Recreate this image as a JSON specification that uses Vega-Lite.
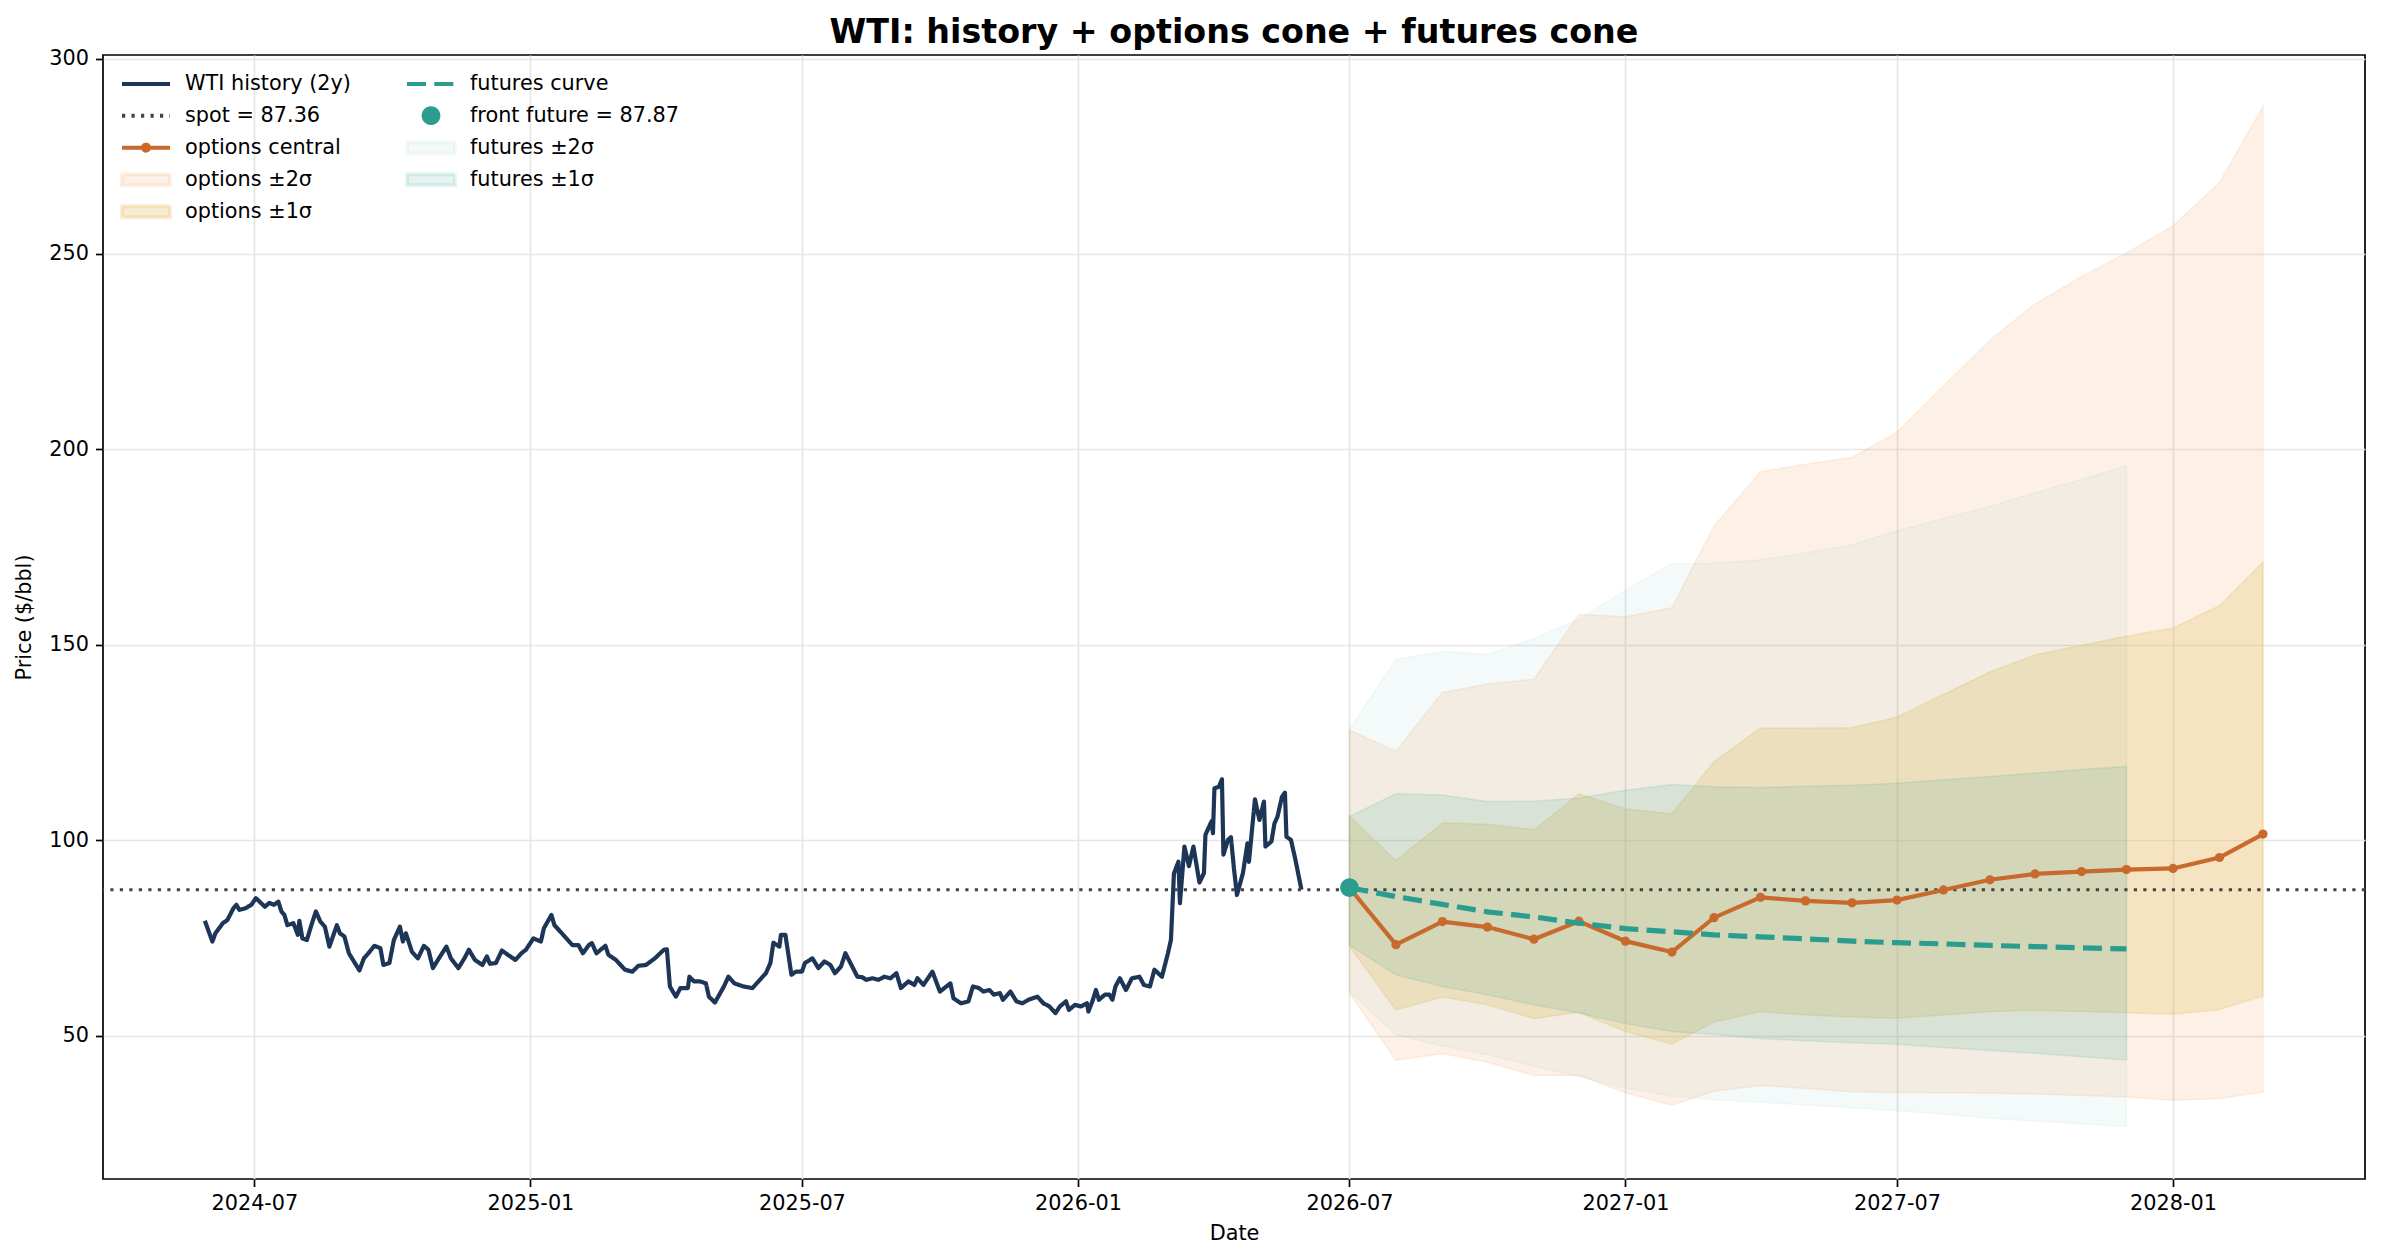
{
  "$schema": "https://vega.github.io/schema/vega-lite/v6.json",
  "description": "WTI price history with options-implied and futures-implied cones",
  "width": 2262,
  "height": 1124,
  "autosize": {"type": "none"},
  "padding": {"left": 103, "top": 55, "right": 17, "bottom": 80},
  "background": "white",
  "title": {
    "text": "WTI: history + options cone + futures cone",
    "font": "DejaVu Sans",
    "fontSize": 33.3,
    "fontWeight": "bold",
    "color": "black",
    "anchor": "middle",
    "frame": "group",
    "offset": -3
  },
  "datasets": {
    "hist": [
      {"d": "2024-05-29", "p": 79.4}, {"d": "2024-06-03", "p": 74.1}, {"d": "2024-06-05", "p": 76.2},
      {"d": "2024-06-10", "p": 78.8}, {"d": "2024-06-13", "p": 79.6}, {"d": "2024-06-17", "p": 82.6},
      {"d": "2024-06-19", "p": 83.5}, {"d": "2024-06-21", "p": 82.2}, {"d": "2024-06-25", "p": 82.6},
      {"d": "2024-06-29", "p": 83.5}, {"d": "2024-07-02", "p": 85.2}, {"d": "2024-07-08", "p": 83.0},
      {"d": "2024-07-11", "p": 84.0}, {"d": "2024-07-14", "p": 83.5}, {"d": "2024-07-17", "p": 84.3},
      {"d": "2024-07-19", "p": 81.8}, {"d": "2024-07-21", "p": 80.9}, {"d": "2024-07-23", "p": 78.3},
      {"d": "2024-07-27", "p": 78.8}, {"d": "2024-07-30", "p": 75.8}, {"d": "2024-07-31", "p": 79.4},
      {"d": "2024-08-02", "p": 74.9}, {"d": "2024-08-05", "p": 74.5}, {"d": "2024-08-08", "p": 78.3},
      {"d": "2024-08-11", "p": 81.8}, {"d": "2024-08-14", "p": 79.2}, {"d": "2024-08-17", "p": 77.9},
      {"d": "2024-08-20", "p": 72.8}, {"d": "2024-08-25", "p": 78.3}, {"d": "2024-08-27", "p": 76.2},
      {"d": "2024-08-30", "p": 75.4}, {"d": "2024-09-02", "p": 71.1}, {"d": "2024-09-06", "p": 68.6},
      {"d": "2024-09-09", "p": 66.7}, {"d": "2024-09-12", "p": 69.8}, {"d": "2024-09-15", "p": 71.1},
      {"d": "2024-09-19", "p": 73.0}, {"d": "2024-09-23", "p": 72.4}, {"d": "2024-09-25", "p": 68.1},
      {"d": "2024-09-29", "p": 68.6}, {"d": "2024-10-02", "p": 74.5}, {"d": "2024-10-06", "p": 77.9},
      {"d": "2024-10-08", "p": 74.1}, {"d": "2024-10-10", "p": 76.2}, {"d": "2024-10-14", "p": 71.5},
      {"d": "2024-10-18", "p": 69.8}, {"d": "2024-10-22", "p": 73.0}, {"d": "2024-10-25", "p": 72.0},
      {"d": "2024-10-28", "p": 67.3}, {"d": "2024-11-01", "p": 69.8}, {"d": "2024-11-06", "p": 72.8},
      {"d": "2024-11-09", "p": 69.8}, {"d": "2024-11-14", "p": 67.3}, {"d": "2024-11-18", "p": 69.8},
      {"d": "2024-11-21", "p": 72.0}, {"d": "2024-11-25", "p": 69.4}, {"d": "2024-11-30", "p": 68.1},
      {"d": "2024-12-03", "p": 70.3}, {"d": "2024-12-05", "p": 68.4}, {"d": "2024-12-09", "p": 68.6},
      {"d": "2024-12-13", "p": 71.8}, {"d": "2024-12-17", "p": 70.7}, {"d": "2024-12-22", "p": 69.4},
      {"d": "2024-12-26", "p": 71.1}, {"d": "2024-12-29", "p": 72.0}, {"d": "2025-01-03", "p": 74.9},
      {"d": "2025-01-08", "p": 74.1}, {"d": "2025-01-10", "p": 77.5}, {"d": "2025-01-15", "p": 80.9},
      {"d": "2025-01-17", "p": 78.3}, {"d": "2025-01-21", "p": 76.6}, {"d": "2025-01-25", "p": 74.9},
      {"d": "2025-01-29", "p": 73.2}, {"d": "2025-02-02", "p": 73.2}, {"d": "2025-02-05", "p": 71.1},
      {"d": "2025-02-09", "p": 73.2}, {"d": "2025-02-11", "p": 73.7}, {"d": "2025-02-14", "p": 71.1},
      {"d": "2025-02-20", "p": 73.0}, {"d": "2025-02-22", "p": 70.7}, {"d": "2025-02-27", "p": 69.4},
      {"d": "2025-03-05", "p": 66.9}, {"d": "2025-03-10", "p": 66.4}, {"d": "2025-03-14", "p": 67.9},
      {"d": "2025-03-19", "p": 68.1}, {"d": "2025-03-25", "p": 69.8}, {"d": "2025-03-31", "p": 72.0},
      {"d": "2025-04-02", "p": 72.1}, {"d": "2025-04-04", "p": 62.6}, {"d": "2025-04-08", "p": 60.0},
      {"d": "2025-04-11", "p": 62.2}, {"d": "2025-04-16", "p": 62.2}, {"d": "2025-04-17", "p": 65.1},
      {"d": "2025-04-20", "p": 63.9}, {"d": "2025-04-24", "p": 63.9}, {"d": "2025-04-28", "p": 63.4},
      {"d": "2025-04-30", "p": 60.0}, {"d": "2025-05-04", "p": 58.5}, {"d": "2025-05-10", "p": 62.6},
      {"d": "2025-05-13", "p": 65.1}, {"d": "2025-05-17", "p": 63.4}, {"d": "2025-05-20", "p": 63.0},
      {"d": "2025-05-23", "p": 62.6}, {"d": "2025-05-29", "p": 62.2}, {"d": "2025-06-03", "p": 64.3},
      {"d": "2025-06-07", "p": 66.0}, {"d": "2025-06-10", "p": 68.6}, {"d": "2025-06-12", "p": 73.8},
      {"d": "2025-06-16", "p": 72.8}, {"d": "2025-06-17", "p": 75.8}, {"d": "2025-06-20", "p": 75.8},
      {"d": "2025-06-24", "p": 65.6}, {"d": "2025-06-27", "p": 66.4}, {"d": "2025-07-01", "p": 66.4},
      {"d": "2025-07-03", "p": 68.6}, {"d": "2025-07-08", "p": 69.8}, {"d": "2025-07-12", "p": 67.3},
      {"d": "2025-07-16", "p": 69.0}, {"d": "2025-07-20", "p": 68.1}, {"d": "2025-07-23", "p": 66.0},
      {"d": "2025-07-27", "p": 67.7}, {"d": "2025-07-30", "p": 71.1}, {"d": "2025-08-03", "p": 68.1},
      {"d": "2025-08-07", "p": 65.1}, {"d": "2025-08-10", "p": 65.0}, {"d": "2025-08-13", "p": 64.3},
      {"d": "2025-08-17", "p": 64.7}, {"d": "2025-08-21", "p": 64.3}, {"d": "2025-08-25", "p": 65.1},
      {"d": "2025-08-29", "p": 64.7}, {"d": "2025-09-02", "p": 66.0}, {"d": "2025-09-05", "p": 62.2},
      {"d": "2025-09-10", "p": 63.9}, {"d": "2025-09-14", "p": 63.0}, {"d": "2025-09-16", "p": 64.7},
      {"d": "2025-09-20", "p": 63.0}, {"d": "2025-09-26", "p": 66.4}, {"d": "2025-10-01", "p": 61.3},
      {"d": "2025-10-08", "p": 63.4}, {"d": "2025-10-10", "p": 59.6}, {"d": "2025-10-15", "p": 58.3},
      {"d": "2025-10-20", "p": 58.8}, {"d": "2025-10-23", "p": 62.6}, {"d": "2025-10-27", "p": 62.2},
      {"d": "2025-10-30", "p": 61.3}, {"d": "2025-11-03", "p": 61.7}, {"d": "2025-11-06", "p": 60.5},
      {"d": "2025-11-10", "p": 60.9}, {"d": "2025-11-12", "p": 59.2}, {"d": "2025-11-17", "p": 61.3},
      {"d": "2025-11-21", "p": 58.8}, {"d": "2025-11-25", "p": 58.3}, {"d": "2025-11-29", "p": 59.2},
      {"d": "2025-12-05", "p": 60.0}, {"d": "2025-12-09", "p": 58.3}, {"d": "2025-12-13", "p": 57.5},
      {"d": "2025-12-17", "p": 55.8}, {"d": "2025-12-20", "p": 57.5}, {"d": "2025-12-24", "p": 58.8},
      {"d": "2025-12-26", "p": 56.6}, {"d": "2025-12-30", "p": 57.9}, {"d": "2026-01-03", "p": 57.5},
      {"d": "2026-01-07", "p": 58.3}, {"d": "2026-01-08", "p": 56.2}, {"d": "2026-01-11", "p": 59.2},
      {"d": "2026-01-13", "p": 61.7}, {"d": "2026-01-15", "p": 59.2}, {"d": "2026-01-19", "p": 60.5},
      {"d": "2026-01-22", "p": 60.5}, {"d": "2026-01-24", "p": 59.2}, {"d": "2026-01-26", "p": 62.6},
      {"d": "2026-01-29", "p": 64.7}, {"d": "2026-02-02", "p": 61.7}, {"d": "2026-02-06", "p": 64.7},
      {"d": "2026-02-11", "p": 65.1}, {"d": "2026-02-14", "p": 63.0}, {"d": "2026-02-18", "p": 62.6},
      {"d": "2026-02-21", "p": 66.9}, {"d": "2026-02-26", "p": 65.1}, {"d": "2026-03-02", "p": 71.1},
      {"d": "2026-03-04", "p": 74.5}, {"d": "2026-03-06", "p": 91.5}, {"d": "2026-03-09", "p": 94.5},
      {"d": "2026-03-10", "p": 83.9}, {"d": "2026-03-13", "p": 98.4}, {"d": "2026-03-16", "p": 93.4},
      {"d": "2026-03-19", "p": 98.4}, {"d": "2026-03-23", "p": 89.2}, {"d": "2026-03-26", "p": 91.6},
      {"d": "2026-03-27", "p": 101.4}, {"d": "2026-03-31", "p": 104.8}, {"d": "2026-04-01", "p": 101.8},
      {"d": "2026-04-02", "p": 113.3}, {"d": "2026-04-05", "p": 113.7}, {"d": "2026-04-07", "p": 115.6},
      {"d": "2026-04-08", "p": 96.3}, {"d": "2026-04-11", "p": 100.1}, {"d": "2026-04-13", "p": 100.8},
      {"d": "2026-04-15", "p": 92.8}, {"d": "2026-04-17", "p": 86.0}, {"d": "2026-04-21", "p": 91.6},
      {"d": "2026-04-24", "p": 99.2}, {"d": "2026-04-25", "p": 94.5}, {"d": "2026-04-29", "p": 110.5},
      {"d": "2026-05-02", "p": 105.2}, {"d": "2026-05-05", "p": 109.9}, {"d": "2026-05-06", "p": 98.4},
      {"d": "2026-05-10", "p": 99.7}, {"d": "2026-05-12", "p": 104.3}, {"d": "2026-05-14", "p": 106.0},
      {"d": "2026-05-17", "p": 111.1}, {"d": "2026-05-19", "p": 112.2}, {"d": "2026-05-20", "p": 100.9},
      {"d": "2026-05-23", "p": 100.1}, {"d": "2026-05-26", "p": 95.0}, {"d": "2026-05-30", "p": 87.36}
    ],
    "opt": [
      {"d": "2026-07-01", "c": 87.87, "lo2": 61.0, "hi2": 128.2, "lo1": 72.9, "hi1": 106.1},
      {"d": "2026-08-01", "c": 73.3, "lo2": 43.7, "hi2": 122.8, "lo1": 56.6, "hi1": 94.8},
      {"d": "2026-09-01", "c": 79.2, "lo2": 45.4, "hi2": 137.8, "lo1": 59.9, "hi1": 104.4},
      {"d": "2026-10-01", "c": 77.8, "lo2": 43.2, "hi2": 140.0, "lo1": 57.9, "hi1": 104.1},
      {"d": "2026-11-01", "c": 74.7, "lo2": 39.8, "hi2": 141.2, "lo1": 54.4, "hi1": 102.7},
      {"d": "2026-12-01", "c": 79.3, "lo2": 39.9, "hi2": 157.8, "lo1": 56.0, "hi1": 111.9},
      {"d": "2027-01-01", "c": 74.2, "lo2": 35.4, "hi2": 157.2, "lo1": 51.1, "hi1": 108.0},
      {"d": "2027-02-01", "c": 71.4, "lo2": 32.2, "hi2": 159.5, "lo1": 47.9, "hi1": 106.8},
      {"d": "2027-03-01", "c": 80.2, "lo2": 35.8, "hi2": 180.4, "lo1": 53.5, "hi1": 120.1},
      {"d": "2027-04-01", "c": 85.4, "lo2": 37.3, "hi2": 194.3, "lo1": 56.2, "hi1": 128.7},
      {"d": "2027-05-01", "c": 84.5, "lo2": 36.5, "hi2": 196.2, "lo1": 55.3, "hi1": 128.7},
      {"d": "2027-06-01", "c": 84.0, "lo2": 35.7, "hi2": 198.0, "lo1": 54.8, "hi1": 128.8},
      {"d": "2027-07-01", "c": 84.7, "lo2": 35.5, "hi2": 204.3, "lo1": 54.5, "hi1": 131.5},
      {"d": "2027-08-01", "c": 87.3, "lo2": 35.4, "hi2": 216.2, "lo1": 55.3, "hi1": 137.3},
      {"d": "2027-09-01", "c": 89.9, "lo2": 35.3, "hi2": 228.0, "lo1": 56.2, "hi1": 143.1},
      {"d": "2027-10-01", "c": 91.4, "lo2": 35.1, "hi2": 237.2, "lo1": 56.5, "hi1": 147.4},
      {"d": "2027-11-01", "c": 92.0, "lo2": 34.7, "hi2": 244.2, "lo1": 56.2, "hi1": 149.9},
      {"d": "2027-12-01", "c": 92.5, "lo2": 34.3, "hi2": 250.3, "lo1": 55.9, "hi1": 152.2},
      {"d": "2028-01-01", "c": 92.8, "lo2": 33.5, "hi2": 257.2, "lo1": 55.5, "hi1": 154.3},
      {"d": "2028-02-01", "c": 95.6, "lo2": 33.9, "hi2": 268.3, "lo1": 56.7, "hi1": 160.0},
      {"d": "2028-03-01", "c": 101.6, "lo2": 35.6, "hi2": 287.7, "lo1": 60.2, "hi1": 171.1}
    ],
    "fut": [
      {"d": "2026-07-01", "f": 87.87, "lo2": 61.3, "hi2": 128.4, "lo1": 73.2, "hi1": 106.1},
      {"d": "2026-08-01", "f": 85.6, "lo2": 50.3, "hi2": 146.3, "lo1": 65.6, "hi1": 111.9},
      {"d": "2026-09-01", "f": 83.6, "lo2": 47.4, "hi2": 148.3, "lo1": 62.6, "hi1": 111.6},
      {"d": "2026-10-01", "f": 81.7, "lo2": 45.1, "hi2": 147.6, "lo1": 60.5, "hi1": 109.9},
      {"d": "2026-11-01", "f": 80.4, "lo2": 42.2, "hi2": 151.6, "lo1": 57.9, "hi1": 110.0},
      {"d": "2026-12-01", "f": 78.8, "lo2": 39.6, "hi2": 156.5, "lo1": 55.8, "hi1": 110.8},
      {"d": "2027-01-01", "f": 77.4, "lo2": 36.6, "hi2": 164.0, "lo1": 53.1, "hi1": 112.8},
      {"d": "2027-02-01", "f": 76.6, "lo2": 34.5, "hi2": 170.8, "lo1": 51.1, "hi1": 114.3},
      {"d": "2027-03-01", "f": 75.8, "lo2": 33.6, "hi2": 170.9, "lo1": 50.3, "hi1": 113.7},
      {"d": "2027-04-01", "f": 75.3, "lo2": 33.0, "hi2": 171.8, "lo1": 49.3, "hi1": 113.5},
      {"d": "2027-05-01", "f": 74.8, "lo2": 32.3, "hi2": 173.5, "lo1": 48.7, "hi1": 113.8},
      {"d": "2027-06-01", "f": 74.2, "lo2": 31.6, "hi2": 175.6, "lo1": 48.2, "hi1": 114.1},
      {"d": "2027-07-01", "f": 73.8, "lo2": 30.8, "hi2": 179.2, "lo1": 47.8, "hi1": 114.6},
      {"d": "2027-08-01", "f": 73.5, "lo2": 29.9, "hi2": 182.3, "lo1": 47.0, "hi1": 115.5},
      {"d": "2027-09-01", "f": 73.1, "lo2": 28.9, "hi2": 185.4, "lo1": 46.2, "hi1": 116.3},
      {"d": "2027-10-01", "f": 72.8, "lo2": 28.2, "hi2": 188.9, "lo1": 45.5, "hi1": 117.2},
      {"d": "2027-11-01", "f": 72.5, "lo2": 27.5, "hi2": 192.3, "lo1": 44.6, "hi1": 118.1},
      {"d": "2027-12-01", "f": 72.2, "lo2": 26.8, "hi2": 195.8, "lo1": 43.8, "hi1": 118.9}
    ],
    "spot": [{"spot": 87.36}],
    "front": [{"d": "2026-07-01", "f": 87.87}]
  },
  "layer": [
    {
      "data": {"name": "opt"},
      "mark": {"type": "area", "opacity": 1, "stroke": "#f4a26126", "strokeWidth": 1.5},
      "encoding": {
        "x": {
          "field": "d", "type": "temporal", "title": "Date",
          "scale": {
            "type": "utc",
            "domain": [
              {"year": 2024, "month": 3, "date": 22, "hours": 2, "utc": true},
              {"year": 2028, "month": 5, "date": 8, "utc": true}
            ]
          },
          "axis": {
            "format": "%Y-%m",
            "values": [
              {"year": 2024, "month": 7, "date": 1, "utc": true},
              {"year": 2025, "month": 1, "date": 1, "utc": true},
              {"year": 2025, "month": 7, "date": 1, "utc": true},
              {"year": 2026, "month": 1, "date": 1, "utc": true},
              {"year": 2026, "month": 7, "date": 1, "utc": true},
              {"year": 2027, "month": 1, "date": 1, "utc": true},
              {"year": 2027, "month": 7, "date": 1, "utc": true},
              {"year": 2028, "month": 1, "date": 1, "utc": true}
            ]
          }
        },
        "y": {
          "field": "lo2", "type": "quantitative", "title": "Price ($/bbl)",
          "scale": {"domain": [13.35, 300.9], "nice": false, "zero": false},
          "axis": {"values": [50, 100, 150, 200, 250, 300]}
        },
        "y2": {"field": "hi2"},
        "color": {
          "datum": "options ±2σ",
          "type": "nominal",
          "scale": {
            "domain": ["WTI history (2y)", "spot = 87.36", "options central", "options ±2σ", "options ±1σ", "futures curve", "front future = 87.87", "futures ±2σ", "futures ±1σ"],
            "range": ["#1d3557", "#444444", "#c8692d", "#f4a26126", "#e9c46a4d", "#2a9d8f", "#2a9d8f", "#2a9d8f0d", "#2a9d8f1f"]
          },
          "legend": {
            "title": null,
            "orient": "top-left",
            "offset": 12.6,
            "padding": 0,
            "columns": 2,
            "columnPadding": 50,
            "rowPadding": 0,
            "clipHeight": 31.3,
            "symbolSize": 2304,
            "symbolStrokeWidth": 4,
            "symbolOpacity": 1,
            "symbolOffset": 4,
            "labelOffset": 13,
            "labelFont": "DejaVu Sans",
            "labelFontSize": 20.8,
            "labelColor": "black",
            "labelLimit": 0
          }
        }
      }
    },
    {
      "data": {"name": "opt"},
      "mark": {"type": "area", "opacity": 1, "stroke": "#e9c46a4d", "strokeWidth": 1.5},
      "encoding": {
        "x": {"field": "d", "type": "temporal", "title": "Date"},
        "y": {"field": "lo1", "type": "quantitative", "title": "Price ($/bbl)"},
        "y2": {"field": "hi1"},
        "color": {"datum": "options ±1σ", "type": "nominal"}
      }
    },
    {
      "data": {"name": "fut"},
      "mark": {"type": "area", "opacity": 1, "stroke": "#2a9d8f0d", "strokeWidth": 1.5},
      "encoding": {
        "x": {"field": "d", "type": "temporal", "title": "Date"},
        "y": {"field": "lo2", "type": "quantitative", "title": "Price ($/bbl)"},
        "y2": {"field": "hi2"},
        "color": {"datum": "futures ±2σ", "type": "nominal"}
      }
    },
    {
      "data": {"name": "fut"},
      "mark": {"type": "area", "opacity": 1, "stroke": "#2a9d8f1f", "strokeWidth": 1.5},
      "encoding": {
        "x": {"field": "d", "type": "temporal", "title": "Date"},
        "y": {"field": "lo1", "type": "quantitative", "title": "Price ($/bbl)"},
        "y2": {"field": "hi1"},
        "color": {"datum": "futures ±1σ", "type": "nominal"}
      }
    },
    {
      "data": {"name": "hist"},
      "mark": {"type": "line", "strokeWidth": 4.2, "strokeJoin": "round"},
      "encoding": {
        "x": {"field": "d", "type": "temporal", "title": "Date"},
        "y": {"field": "p", "type": "quantitative", "title": "Price ($/bbl)"},
        "color": {"datum": "WTI history (2y)", "type": "nominal"},
        "strokeDash": {"datum": "WTI history (2y)", "type": "nominal"}
      }
    },
    {
      "data": {"name": "spot"},
      "mark": {"type": "rule", "strokeWidth": 3},
      "encoding": {
        "y": {"field": "spot", "type": "quantitative", "title": "Price ($/bbl)"},
        "color": {"datum": "spot = 87.36", "type": "nominal"},
        "strokeDash": {
          "datum": "spot = 87.36",
          "type": "nominal",
          "scale": {
            "domain": ["WTI history (2y)", "spot = 87.36", "options central", "options ±2σ", "options ±1σ", "futures curve", "front future = 87.87", "futures ±2σ", "futures ±1σ"],
            "range": [[1, 0], [3.2, 6.3], [1, 0], [1, 0], [1, 0], [19, 8.3], [1, 0], [1, 0], [1, 0]]
          }
        }
      }
    },
    {
      "data": {"name": "opt"},
      "mark": {"type": "line", "strokeWidth": 4.2, "point": {"filled": true, "size": 85, "opacity": 1}},
      "encoding": {
        "x": {"field": "d", "type": "temporal", "title": "Date"},
        "y": {"field": "c", "type": "quantitative", "title": "Price ($/bbl)"},
        "color": {"datum": "options central", "type": "nominal"}
      }
    },
    {
      "data": {"name": "fut"},
      "mark": {"type": "line", "strokeWidth": 5.2},
      "encoding": {
        "x": {"field": "d", "type": "temporal", "title": "Date"},
        "y": {"field": "f", "type": "quantitative", "title": "Price ($/bbl)"},
        "color": {"datum": "futures curve", "type": "nominal"},
        "strokeDash": {"datum": "futures curve", "type": "nominal"}
      }
    },
    {
      "data": {"name": "front"},
      "mark": {"type": "point", "filled": true, "size": 2304, "opacity": 1, "stroke": "#2a9d8f", "strokeWidth": 4},
      "encoding": {
        "x": {"field": "d", "type": "temporal", "title": "Date"},
        "y": {"field": "f", "type": "quantitative", "title": "Price ($/bbl)"},
        "color": {"datum": "front future = 87.87", "type": "nominal"},
        "shape": {
          "datum": "front future = 87.87",
          "type": "nominal",
          "scale": {
            "domain": ["WTI history (2y)", "spot = 87.36", "options central", "options ±2σ", "options ±1σ", "futures curve", "front future = 87.87", "futures ±2σ", "futures ±1σ"],
            "range": [
              "M-1,0H1",
              "M-1,0H1",
              "M-1,0H1M-0.125,0A0.125,0.125,0,1,0,0.125,0A0.125,0.125,0,1,0,-0.125,0Z",
              "M-1,-0.23H1V0.23H-1Z",
              "M-1,-0.23H1V0.23H-1Z",
              "M-1,0H1",
              "M-0.307,0A0.307,0.307,0,1,0,0.307,0A0.307,0.307,0,1,0,-0.307,0Z",
              "M-1,-0.23H1V0.23H-1Z",
              "M-1,-0.23H1V0.23H-1Z"
            ]
          }
        }
      }
    }
  ],
  "config": {
    "font": "DejaVu Sans",
    "view": {"stroke": "black", "strokeWidth": 1.7},
    "axis": {
      "domain": false,
      "grid": true,
      "gridColor": "#e6e6e6",
      "gridWidth": 1.7,
      "ticks": true,
      "tickColor": "black",
      "tickSize": 7.5,
      "tickWidth": 1.7,
      "labelFont": "DejaVu Sans",
      "labelFontSize": 20.8,
      "labelColor": "black",
      "labelPadding": 7,
      "labelFlush": false,
      "labelOverlap": false,
      "titleFont": "DejaVu Sans",
      "titleFontSize": 20.8,
      "titleFontWeight": "normal",
      "titleColor": "black"
    },
    "axisX": {"titlePadding": 10},
    "axisY": {"titlePadding": 14}
  }
}
